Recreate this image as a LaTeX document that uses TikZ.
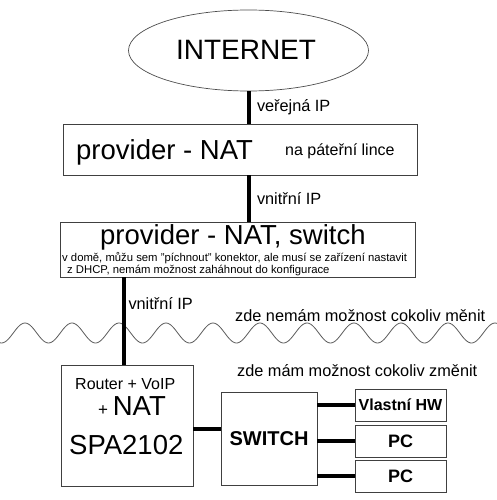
\documentclass[tikz,border=0pt]{standalone}
\usepackage{fontspec}
\setmainfont{Liberation Sans}
\usetikzlibrary{positioning, calc, shapes.geometric}
\tikzstyle{Link} = [
%Create custom link style:
line width = 4pt
]

\begin{document}
\begin{tikzpicture}[x=1pt, y=-1pt,
					      cloud/.style = {ellipse, draw=black!70, line width=0.7pt, minimum width=240pt, minimum height=81pt, inner sep=0pt},
					      box/.style = {rectangle, draw=black!75, line width=0.8pt, fill=white, inner sep=0pt},
					      huge/.style = {font=\fontsize{27.5}{30}\selectfont, inner sep=0pt},
					      label/.style = {font=\fontsize{16.3}{18}\selectfont, inner sep=2.5pt},
					      note/.style = {font=\fontsize{11.3}{13}\selectfont, inner sep=0pt},
					      device/.style = {font=\bfseries\fontsize{18}{20}\selectfont},
					      wave/.style = {draw=black!65, line width=0.8pt},
				      ]
				      \useasboundingbox (0,0) rectangle (497,500);

				      % the line between the provider and me
				      \draw[wave] plot[domain=0:497, samples=300, smooth] (\x, {333-10*cos((\x-25)*7.6596)});

				      \node[cloud](NET) at (248.5,50.5){};
				      \node[font=\fontsize{28}{30}\selectfont] at (246,50){INTERNET};

				      \node[box, minimum width=354pt, minimum height=51pt](PROV) at (240,149.5){};
				      \node[huge, anchor=base west] at (76,159){provider - NAT};
				      \node[label, inner sep=0pt, anchor=base west, font=\fontsize{16}{18}\selectfont] at (285,155){na páteřní lince};

				      \node[box, minimum width=355pt, minimum height=55pt](HOUSE) at (237.5,249.5){};
				      \node[huge, anchor=base west] at (100,244.5){provider - NAT, switch};
				      \node[note, anchor=base west](NOTE1) at (62,261){v domě, můžu sem "píchnout" konektor, ale musí se zařízení nastavit};
				      \node[note, anchor=base west](NOTE2) at (67,273.5){z DHCP, nemám možnost zaháhnout do konfigurace};

				      \node[label, inner sep=0pt, anchor=base west] at (235,321){zde nemám možnost cokoliv měnit};
				      \node[label, inner sep=0pt, anchor=base west] at (237,376){zde mám možnost cokoliv změnit};

				      \node[box, minimum width=132pt, minimum height=121pt](ROUTER) at (127,425.5){};
				      \node[font=\fontsize{16}{18}\selectfont, inner sep=0pt, anchor=base west] at (75,389){Router + VoIP};
				      \node[inner sep=0pt, anchor=base west] at (98,415){{\fontsize{17}{18}\selectfont+ }{\fontsize{27.5}{30}\selectfont NAT}};
				      \node[huge, anchor=base west] at (69,454){SPA2102};

				      \node[box, minimum width=96pt, minimum height=93pt, font=\bfseries\fontsize{20}{22}\selectfont](SW) at (269,438.5){SWITCH};

				      \node[box, minimum width=91pt, minimum height=32pt, font=\bfseries\fontsize{16}{18}\selectfont](HW) at (400.5,405){Vlastní HW};
				      \node[box, device, minimum width=91pt, minimum height=32pt](PC1) at (400.5,441){PC};
				      \node[box, device, minimum width=91pt, minimum height=32pt](PC2) at (400.5,476){PC};

				      \draw[Link](NET.south)--node[label, midway, right, xshift=4pt] {veřejná IP}(NET.south |- PROV.north);
				      \draw[Link](NET.south |- PROV.south)--node[label, midway, right, xshift=4pt] {vnitřní IP}(NET.south |- HOUSE.north);
				      \draw[Link]([xshift=-3pt]ROUTER.north |- HOUSE.south)--node[label, pos=0.3, right] {vnitřní IP}([xshift=-3pt]ROUTER.north);
				      \draw[Link]([yshift=-3.5pt]ROUTER.east)--([yshift=-3.5pt]ROUTER.east -| SW.west);
				      \foreach \dev in {HW, PC1, PC2}
				      \draw[Link](\dev.west -| SW.east)--(\dev.west);
			      \end{tikzpicture}
\end{document}
